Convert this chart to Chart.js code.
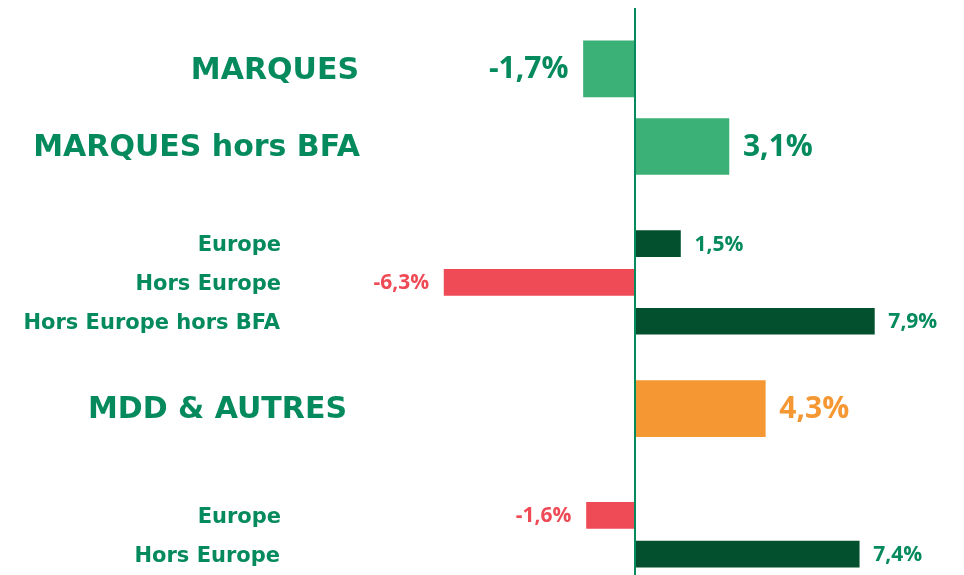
<!DOCTYPE html>
<html>
<head>
<meta charset="utf-8">
<script src="https://cdn.jsdelivr.net/npm/chart.js@4.4.1/dist/chart.umd.min.js"></script>
<style>
  html, body { margin: 0; padding: 0; background: #ffffff; }
  #wrap { width: 964px; height: 575px; position: relative; }
</style>
</head>
<body>
<div id="wrap"><canvas id="chart"></canvas></div>
<script>
// Chart data
const categories = ['MARQUES', 'MARQUES hors BFA', 'Europe', 'Hors Europe', 'Hors Europe hors BFA', 'MDD & AUTRES', 'Europe', 'Hors Europe'];
const values = [-1.7, 3.1, 1.5, -6.3, 7.9, 4.3, -1.6, 7.4];
const mainRows = [true, true, false, false, false, true, false, false];

// Layout: slot of each row on the y axis (blank slots make the gaps)
const rowSlots = [0, 8, 18, 22, 26, 35, 46, 50];
const slotCount = 51;
// right edge of each category label
const labelRight = [359, 360, 281, 281, 280, 347, 281, 280];

// Colours
const TEXT_GREEN = '#048a5d';
const LIGHT_GREEN = '#3bb077';
const DARK_GREEN = '#02502e';
const RED = '#ef4b57';
const ORANGE = '#f59733';

function barColor(i) {
    if (i === 5) return ORANGE;
    if (mainRows[i]) return LIGHT_GREEN;
    return values[i] < 0 ? RED : DARK_GREEN;
}
function valueColor(i) {
    if (i === 5) return ORANGE;
    if (!mainRows[i] && values[i] < 0) return RED;
    return TEXT_GREEN;
}
function fmt(v) {
    return v.toFixed(1).replace('.', ',') + '%';
}

// Build slot labels and per-dataset data
const slotLabels = new Array(slotCount).fill('');
const slotRow = new Array(slotCount).fill(-1);
rowSlots.forEach((s, i) => { slotLabels[s] = categories[i]; slotRow[s] = i; });
const mainData = slotRow.map(r => (r >= 0 && mainRows[r]) ? values[r] : null);
const subData = slotRow.map(r => (r >= 0 && !mainRows[r]) ? values[r] : null);

const CAT_FONT = '"DejaVu Sans", sans-serif';
const VAL_FONT = '"Open Sans", "DejaVu Sans", sans-serif';

const labelPlugin = {
    id: 'labels',
    afterDatasetsDraw(chart) {
        const c = chart.ctx;
        const xs = chart.scales.x;
        const x0 = xs.getPixelForValue(0);
        // zero line
        c.save();
        c.strokeStyle = TEXT_GREEN;
        c.lineWidth = 2;
        c.beginPath();
        c.moveTo(x0, 8);
        c.lineTo(x0, chart.height);
        c.stroke();

        chart.data.datasets.forEach((ds, di) => {
            const meta = chart.getDatasetMeta(di);
            meta.data.forEach((bar, si) => {
                const r = slotRow[si];
                if (r < 0 || ds.data[si] === null) return;
                const big = mainRows[r];
                const v = values[r];
                c.textBaseline = 'middle';
                // category label
                c.fillStyle = TEXT_GREEN;
                c.textAlign = 'right';
                c.font = big ? 'bold 30px ' + CAT_FONT : 'bold 21px ' + CAT_FONT;
                c.fillText(categories[r], labelRight[r], bar.y + 2);
                // value label
                c.fillStyle = valueColor(r);
                c.font = big ? '700 30px ' + VAL_FONT : '700 21px ' + VAL_FONT;
                if (v < 0) {
                    c.textAlign = 'right';
                    c.fillText(fmt(v), bar.x - 15, bar.y + 1);
                } else {
                    c.textAlign = 'left';
                    c.fillText(fmt(v), bar.x + 14, bar.y + 1);
                }
            });
        });
        c.restore();
    }
};

const pxPerUnit = 30.3;
const ctx = document.getElementById('chart').getContext('2d');
const chart = new Chart(ctx, {
    type: 'bar',
    data: {
        labels: slotLabels,
        datasets: [{
            data: mainData,
            backgroundColor: c => barColor(slotRow[c.dataIndex]),
            barThickness: 56,
            grouped: false,
            skipNull: true,
            clip: false
        }, {
            data: subData,
            backgroundColor: c => barColor(slotRow[c.dataIndex]),
            barThickness: 26,
            grouped: false,
            skipNull: true,
            clip: false
        }]
    },
    options: {
        indexAxis: 'y',
        responsive: true,
        maintainAspectRatio: false,
        animation: false,
        layout: { padding: { top: 64, bottom: 16, left: 0, right: 0 } },
        plugins: { legend: { display: false }, tooltip: { enabled: false } },
        scales: {
            x: { display: false, min: -635 / pxPerUnit, max: (964 - 635) / pxPerUnit },
            y: { display: false }
        }
    },
    plugins: [labelPlugin]
});
</script>
</body>
</html>
